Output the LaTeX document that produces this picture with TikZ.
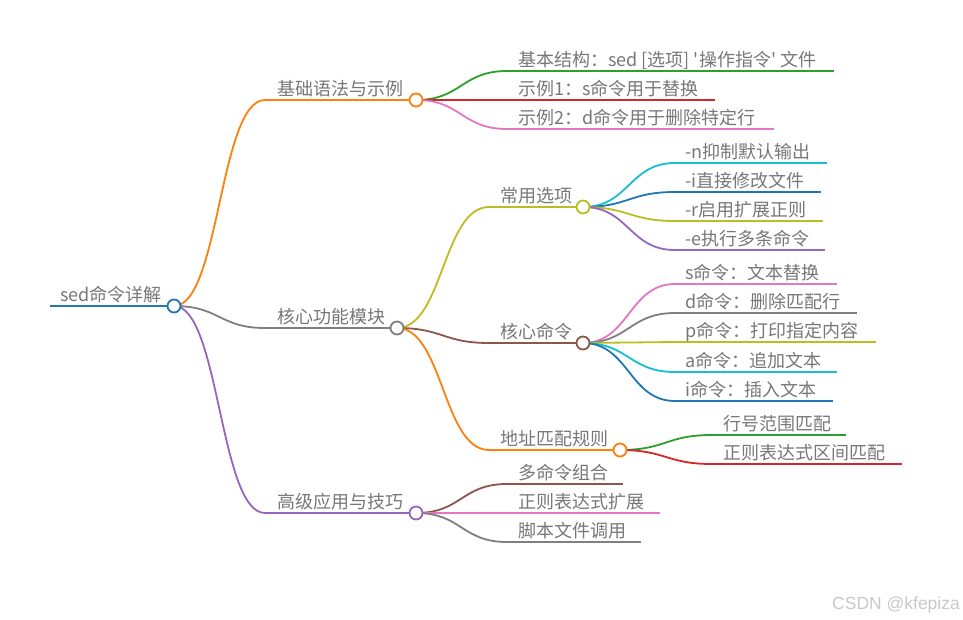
\documentclass[tikz,border=0pt]{standalone}
\usepackage{fontspec}
\setmainfont{Noto Sans CJK SC}[Ligatures=TeXOff]
\newfontfamily\wmfont{Liberation Sans}
\usetikzlibrary{calc}
\definecolor{tblue}{HTML}{1F77B4}
\definecolor{torange}{HTML}{FF7F0E}
\definecolor{tgreen}{HTML}{2CA02C}
\definecolor{tred}{HTML}{D62728}
\definecolor{tpurple}{HTML}{9467BD}
\definecolor{tbrown}{HTML}{8C564B}
\definecolor{tpink}{HTML}{E377C2}
\definecolor{tgray}{HTML}{7F7F7F}
\definecolor{tolive}{HTML}{BCBD22}
\definecolor{tcyan}{HTML}{17BECF}
\definecolor{txt}{HTML}{777777}
\definecolor{wm}{HTML}{C8C8C8}
\newcommand{\mmlink}[3]{\draw[mmline,#3] let \p1=(#1), \p2=(#2) in (\p1) .. controls ({0.5*\x1+0.5*\x2},\y1) and ({0.5*\x1+0.5*\x2},\y2) .. (\p2);}
\tikzset{
  mmline/.style={line width=1.8pt},
  lbl/.style={anchor=base west, inner sep=0pt, text=txt, font=\fontsize{18}{20}\selectfont},
  mmcirc/.style={circle, draw=#1, fill=white, line width=1.8pt, minimum size=13pt, inner sep=0pt}
}
\begin{document}
\begin{tikzpicture}[x=1pt,y=-1pt]
\useasboundingbox (0,0) rectangle (963,620);
% ---- coordinates: line starts (s), circles (o), line ends (e)
\coordinate (s0) at (50,306);   \coordinate (o0) at (174,306);
\coordinate (sA) at (265,100);  \coordinate (oA) at (416,100);
\coordinate (sB) at (265,328);  \coordinate (oB) at (397,328);
\coordinate (sC) at (265,513);  \coordinate (oC) at (416,513);
% children of A
\coordinate (sA1) at (507,71);  \coordinate (eA1) at (834,71);
\coordinate (sA2) at (507,100); \coordinate (eA2) at (715,100);
\coordinate (sA3) at (507,129); \coordinate (eA3) at (774,129);
% children of B
\coordinate (sB1) at (489,207); \coordinate (oB1) at (583,207);
\coordinate (sB2) at (489,343); \coordinate (oB2) at (583,343);
\coordinate (sB3) at (489,450); \coordinate (oB3) at (620,450);
% children of B1
\coordinate (sB11) at (675,163); \coordinate (eB11) at (827,163);
\coordinate (sB12) at (675,192); \coordinate (eB12) at (821,192);
\coordinate (sB13) at (675,221); \coordinate (eB13) at (823,221);
\coordinate (sB14) at (675,250); \coordinate (eB14) at (825,250);
% children of B2
\coordinate (sB21) at (675,284); \coordinate (eB21) at (837,284);
\coordinate (sB22) at (675,313); \coordinate (eB22) at (857,313);
\coordinate (sB23) at (675,342); \coordinate (eB23) at (876,342);
\coordinate (sB24) at (675,372); \coordinate (eB24) at (837,372);
\coordinate (sB25) at (675,401); \coordinate (eB25) at (833,401);
% children of B3
\coordinate (sB31) at (712,435); \coordinate (eB31) at (846,435);
\coordinate (sB32) at (712,464); \coordinate (eB32) at (902,464);
% children of C
\coordinate (sC1) at (507,484); \coordinate (eC1) at (623,484);
\coordinate (sC2) at (507,513); \coordinate (eC2) at (660,513);
\coordinate (sC3) at (507,542); \coordinate (eC3) at (641,542);

% ---- horizontal underlines
\draw[mmline,tblue] (s0) -- (o0);
\draw[mmline,torange] (sA) -- (oA);
\draw[mmline,tgray] (sB) -- (oB);
\draw[mmline,tpurple] (sC) -- (oC);
\draw[mmline,tgreen] (sA1) -- (eA1);
\draw[mmline,tred] (sA2) -- (eA2);
\draw[mmline,tpink] (sA3) -- (eA3);
\draw[mmline,tolive] (sB1) -- (oB1);
\draw[mmline,tbrown] (sB2) -- (oB2);
\draw[mmline,torange] (sB3) -- (oB3);
\draw[mmline,tcyan] (sB11) -- (eB11);
\draw[mmline,tblue] (sB12) -- (eB12);
\draw[mmline,tolive] (sB13) -- (eB13);
\draw[mmline,tpurple] (sB14) -- (eB14);
\draw[mmline,tpink] (sB21) -- (eB21);
\draw[mmline,tgray] (sB22) -- (eB22);
\draw[mmline,tolive] (sB23) -- (eB23);
\draw[mmline,tcyan] (sB24) -- (eB24);
\draw[mmline,tblue] (sB25) -- (eB25);
\draw[mmline,tgreen] (sB31) -- (eB31);
\draw[mmline,tred] (sB32) -- (eB32);
\draw[mmline,tbrown] (sC1) -- (eC1);
\draw[mmline,tpink] (sC2) -- (eC2);
\draw[mmline,tgray] (sC3) -- (eC3);

% ---- curved links
\mmlink{o0}{sA}{torange}
\mmlink{o0}{sB}{tgray}
\mmlink{o0}{sC}{tpurple}
\mmlink{oA}{sA1}{tgreen}
\mmlink{oA}{sA2}{tred}
\mmlink{oA}{sA3}{tpink}
\mmlink{oB}{sB1}{tolive}
\mmlink{oB}{sB2}{tbrown}
\mmlink{oB}{sB3}{torange}
\mmlink{oB1}{sB11}{tcyan}
\mmlink{oB1}{sB12}{tblue}
\mmlink{oB1}{sB13}{tolive}
\mmlink{oB1}{sB14}{tpurple}
\mmlink{oB2}{sB21}{tpink}
\mmlink{oB2}{sB22}{tgray}
\mmlink{oB2}{sB23}{tolive}
\mmlink{oB2}{sB24}{tcyan}
\mmlink{oB2}{sB25}{tblue}
\mmlink{oB3}{sB31}{tgreen}
\mmlink{oB3}{sB32}{tred}
\mmlink{oC}{sC1}{tbrown}
\mmlink{oC}{sC2}{tpink}
\mmlink{oC}{sC3}{tgray}

% ---- circles
\node[mmcirc=tblue] (c0) at (o0) {};
\node[mmcirc=torange] (cA) at (oA) {};
\node[mmcirc=tgray] (cB) at (oB) {};
\node[mmcirc=tpurple] (cC) at (oC) {};
\node[mmcirc=tolive] (cB1) at (oB1) {};
\node[mmcirc=tbrown] (cB2) at (oB2) {};
\node[mmcirc=torange] (cB3) at (oB3) {};

% ---- labels
\node[lbl] (t0) at (60,301.5) {sed命令详解};
\node[lbl] (tA) at (277,95.5) {基础语法与示例};
\node[lbl] (tB) at (277,323.5) {核心功能模块};
\node[lbl] (tC) at (277,508.5) {高级应用与技巧};
\node[lbl] (tA1) at (518,66.5) {基本结构：sed [选项] '操作指令' 文件};
\node[lbl] (tA2) at (518,95.5) {示例1：s命令用于替换};
\node[lbl] (tA3) at (518,124.5) {示例2：d命令用于删除特定行};
\node[lbl] (tB1) at (500,202.5) {常用选项};
\node[lbl] (tB2) at (500,338.5) {核心命令};
\node[lbl] (tB3) at (500,445.5) {地址匹配规则};
\node[lbl] (tB11) at (685,158.5) {-n抑制默认输出};
\node[lbl] (tB12) at (685,187.5) {-i直接修改文件};
\node[lbl] (tB13) at (685,216.5) {-r启用扩展正则};
\node[lbl] (tB14) at (685,245.5) {-e执行多条命令};
\node[lbl] (tB21) at (685,279.5) {s命令：文本替换};
\node[lbl] (tB22) at (685,308.5) {d命令：删除匹配行};
\node[lbl] (tB23) at (685,337.5) {p命令：打印指定内容};
\node[lbl] (tB24) at (685,367.5) {a命令：追加文本};
\node[lbl] (tB25) at (685,396.5) {i命令：插入文本};
\node[lbl] (tB31) at (723,430.5) {行号范围匹配};
\node[lbl] (tB32) at (723,459.5) {正则表达式区间匹配};
\node[lbl] (tC1) at (518,479.5) {多命令组合};
\node[lbl] (tC2) at (518,508.5) {正则表达式扩展};
\node[lbl] (tC3) at (518,537.5) {脚本文件调用};

% ---- watermark
\node[anchor=base west, inner sep=0pt, text=wm, font=\wmfont\fontsize{17.5}{20}\selectfont] (wmk) at (832,609) {CSDN @kfepiza};
\end{tikzpicture}
\end{document}
